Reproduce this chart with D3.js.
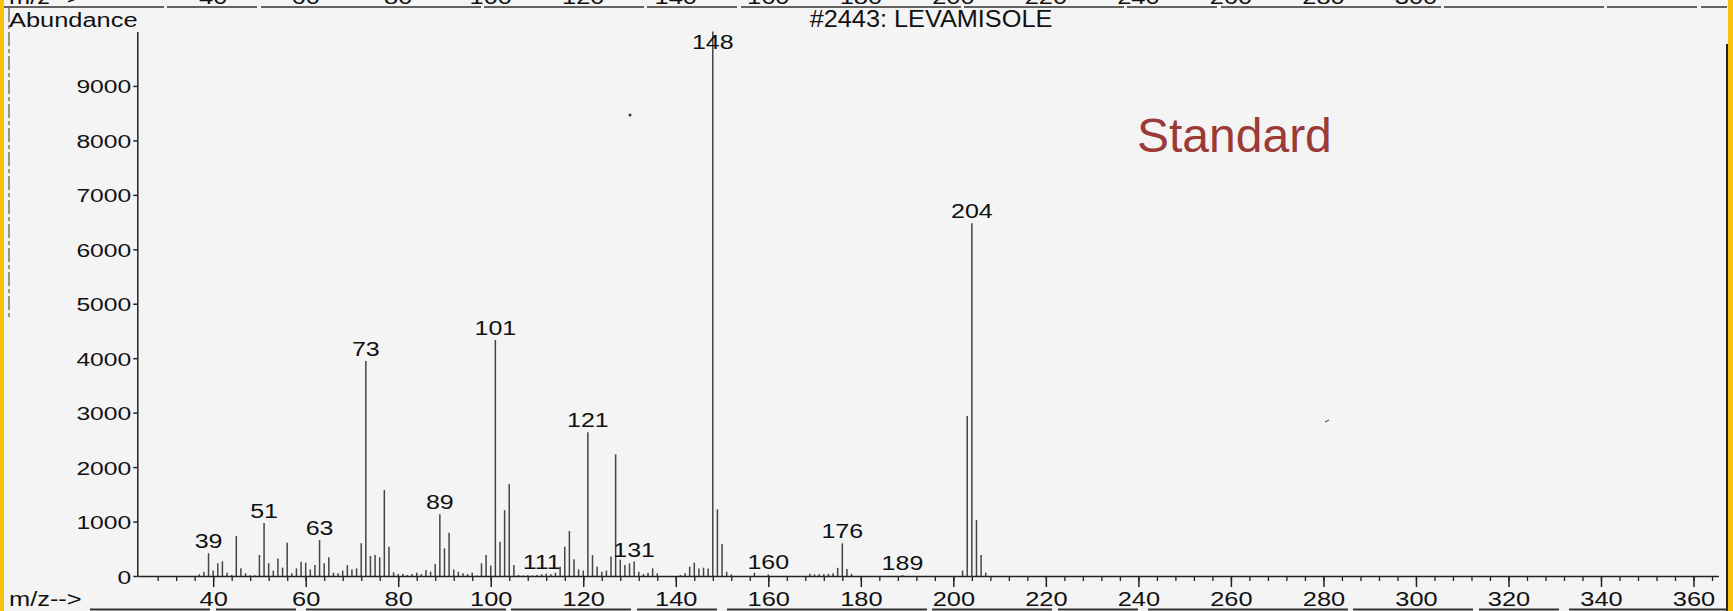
<html>
<head>
  <script src="https://d3js.org/d3.v7.min.js"></script>
  <style>
    body { margin: 0; background: #f4f4f4; }
    text { font-family: "Liberation Sans", Arial, sans-serif; }
  </style>
</head>
<body>
  <svg id="spectrum" width="1733" height="611"></svg>
  <script>

    // m/z and abundance of each peak
    const mz = [37, 38, 39, 40, 41, 42, 43, 44, 45, 46, 47, 48, 49, 50, 51, 52, 53, 54, 55, 56, 57, 58, 59, 60,
      61, 62, 63, 64, 65, 66, 67, 68, 69, 70, 71, 72, 73, 74, 75, 76, 77, 78, 79, 80, 81, 82, 83, 84, 85, 86,
      87, 88, 89, 90, 91, 92, 93, 94, 95, 96, 97, 98, 99, 100, 101, 102, 103, 104, 105, 106, 107, 108, 109, 110,
      111, 112, 113, 114, 115, 116, 117, 118, 119, 120, 121, 122, 123, 124, 125, 126, 127, 128, 129, 130, 131,
      132, 133, 134, 135, 136, 141, 142, 143, 144, 145, 146, 147, 148, 149, 150, 151, 152, 157, 160, 169, 170,
      171, 172, 173, 174, 175, 176, 177, 178, 189, 202, 203, 204, 205, 206, 207];
    const abundance = [30, 80, 417, 100, 233, 270, 60, 20, 735, 141, 50, 15, 15, 386, 975, 233, 100, 320, 153, 612, 50, 140, 260, 245,
      120, 200, 660, 233, 343, 60, 50, 100, 200, 120, 140, 600, 3950, 367, 386, 343, 1580, 539, 70, 35, 35, 20, 35, 60, 35, 110,
      80, 220, 1133, 508, 796, 120, 80, 50, 35, 60, 10, 233, 386, 190, 4335, 630, 1210, 1690, 200, 20, 10, 15, 10, 20,
      30, 40, 30, 60, 171, 539, 827, 306, 120, 100, 2640, 386, 171, 80, 100, 360, 2235, 300, 200, 233, 265,
      80, 35, 60, 140, 50, 20, 50, 171, 245, 140, 153, 140, 10000, 1224, 587, 80, 30, 60, 30, 40, 30,
      30, 30, 40, 50, 150, 600, 130, 40, 20, 100, 2939, 6478, 1028, 386, 60];

    const labelledPeaks = [39, 51, 63, 73, 89, 101, 111, 121, 131, 148, 160, 176, 189, 204];
    const xTickValues = d3.range(40, 361, 20);
    const yTickValues = d3.range(0, 9001, 1000);

    const title = "#2443: LEVAMISOLE";
    const yLabel = "Abundance";
    const xLabel = "m/z-->";
    const note = "Standard";

    const svg = d3.select("#spectrum");
    const peaks = mz.map((m, i) => ({ mz: m, value: abundance[i] }));

    const x = d3.scaleLinear().domain([23.6, 365.4]).range([137.3, 1718.5]);
    const y = d3.scaleLinear().domain([0, 10000]).range([576, 31.5]);

    svg.append("rect").attr("width", 1733).attr("height", 611).attr("fill", "#f4f4f4");

    // scan borders
    svg.append("rect").attr("x", 0).attr("y", 0).attr("width", 4).attr("height", 611).attr("fill", "#f7c20a");
    svg.append("rect").attr("x", 1728).attr("y", 0).attr("width", 5).attr("height", 611).attr("fill", "#f7c20a");
    svg.append("line").attr("x1", 1727).attr("x2", 1727).attr("y1", 44).attr("y2", 611)
      .attr("stroke", "#222").attr("stroke-width", 2);
    svg.append("line").attr("x1", 9).attr("x2", 9).attr("y1", 8).attr("y2", 320)
      .attr("stroke", "#555").attr("stroke-width", 1.2).attr("stroke-dasharray", "14 3 4 3");
    svg.append("line").attr("x1", 4).attr("x2", 1727).attr("y1", 7).attr("y2", 7)
      .attr("stroke", "#333").attr("stroke-width", 1.5).attr("stroke-dasharray", "160 3 90 4 220 3");
    svg.append("line").attr("x1", 90).attr("x2", 1727).attr("y1", 609.5).attr("y2", 609.5)
      .attr("stroke", "#333").attr("stroke-width", 2).attr("stroke-dasharray", "120 6 80 10 200 5");

    // cut-off scale row of the previous panel at the very top
    const topRow = svg.append("g").style("fill", "#111");
    topRow.selectAll("text").data(xTickValues.filter(v => v <= 300))
      .join("text")
      .attr("text-anchor", "middle")
      .attr("transform", d => `translate(${x(d)},4) scale(1.27,1)`)
      .style("font-size", "20px")
      .text(d => d);
    topRow.append("text").attr("transform", "translate(9,4) scale(1.27,1)")
      .style("font-size", "20px").text(xLabel);

    // peaks
    svg.append("g").selectAll("line").data(peaks)
      .join("line")
      .attr("x1", d => x(d.mz)).attr("x2", d => x(d.mz))
      .attr("y1", y(0)).attr("y2", d => y(d.value))
      .attr("stroke", "#444")
      .attr("stroke-width", 1.5);

    // axes
    const xMinor = svg.append("g").attr("transform", `translate(0,${y(0)})`)
      .call(d3.axisBottom(x).tickValues(d3.range(28, 365, 4)).tickSize(5).tickSizeOuter(0).tickFormat(""));
    xMinor.select(".domain").remove();
    xMinor.selectAll("line").attr("stroke", "#222").attr("stroke-width", 1.3);

    const xAxis = svg.append("g").attr("transform", `translate(0,${y(0)})`)
      .call(d3.axisBottom(x).tickValues(xTickValues).tickSize(11).tickSizeOuter(0));
    xAxis.selectAll("line, path").attr("stroke", "#222").attr("stroke-width", 1.5);
    xAxis.selectAll("text")
      .attr("y", null).attr("dy", null)
      .attr("transform", "translate(0,30) scale(1.27,1)")
      .style("font-size", "20px").attr("fill", "#111");

    const yAxis = svg.append("g").attr("transform", `translate(${x.range()[0]},0)`)
      .call(d3.axisLeft(y).tickValues(yTickValues).tickFormat(d3.format("d")).tickSize(4).tickSizeOuter(0));
    yAxis.selectAll("line, path").attr("stroke", "#222").attr("stroke-width", 1.5);
    yAxis.selectAll("text")
      .attr("x", null).attr("dy", null)
      .attr("transform", "translate(-6,7) scale(1.3,1)")
      .style("font-size", "19px").attr("fill", "#111");

    // peak labels
    const labelData = peaks.filter(d => labelledPeaks.includes(d.mz));
    svg.append("g").style("fill", "#111").selectAll("text").data(labelData)
      .join("text")
      .attr("text-anchor", "middle")
      .attr("transform", d => `translate(${x(d.mz)},${Math.max(y(d.value) - 5, 49)}) scale(1.25,1)`)
      .style("font-size", "20px")
      .text(d => d.mz);

    // texts
    svg.append("text").attr("transform", "translate(9,27) scale(1.27,1)")
      .style("font-size", "20px").style("fill", "#111").text(yLabel);
    svg.append("text").attr("transform", "translate(9,606) scale(1.27,1)")
      .style("font-size", "20px").style("fill", "#111").text(xLabel);
    svg.append("text").attr("text-anchor", "middle")
      .attr("transform", "translate(931,27) scale(1.1,1)")
      .style("font-size", "23px").style("fill", "#111").text(title);
    svg.append("text").attr("x", 1137).attr("y", 152)
      .style("font-size", "48px").style("fill", "#9b3a36")
      .text(note);

    // specks on the scan
    svg.append("circle").attr("cx", 630).attr("cy", 115).attr("r", 1.5).attr("fill", "#333");
    svg.append("line").attr("x1", 1325).attr("x2", 1329).attr("y1", 422).attr("y2", 420)
      .attr("stroke", "#555").attr("stroke-width", 1.2);

  </script>
</body>
</html>
